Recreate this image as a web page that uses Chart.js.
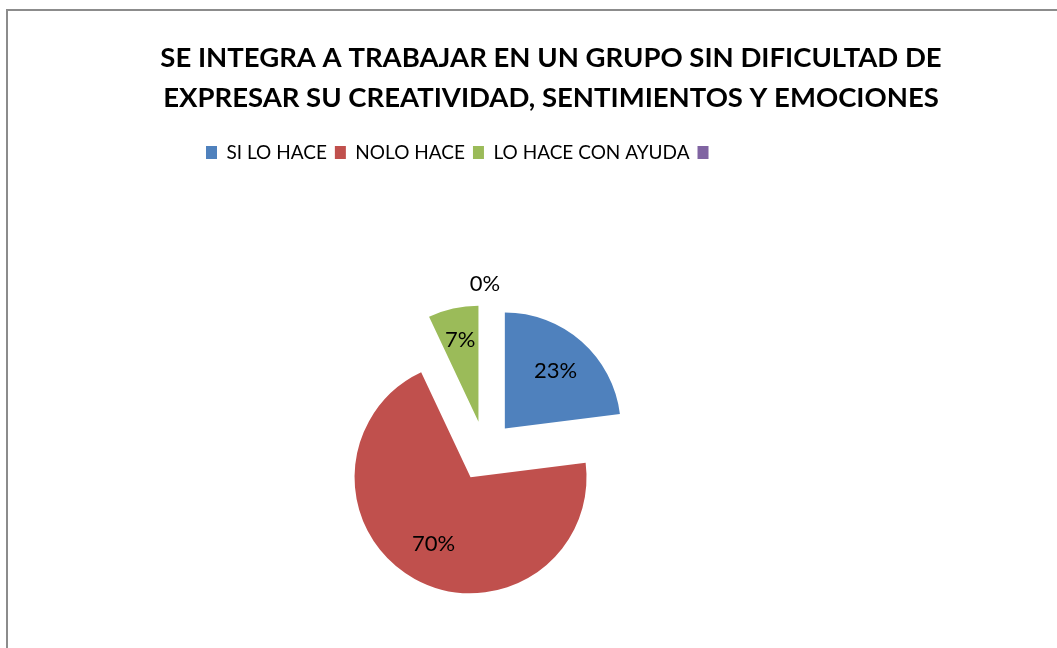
<!DOCTYPE html>
<html>
<head>
<meta charset="utf-8">
<script src="https://cdn.jsdelivr.net/npm/chart.js@4"></script>
<style>
    html, body { margin: 0; padding: 0; background: #fff; overflow: hidden; width: 1057px; height: 648px; }
    #frame { position: absolute; left: 6px; top: 9px; width: 1100px; height: 700px; border-left: 2px solid #8c8c8c; border-top: 2px solid #8c8c8c; }
    #chart { position: absolute; left: 0; top: 0; }
</style>
</head>
<body>
<div id="frame"><canvas id="chart"></canvas></div>
<script>
const titleLines = ['SE INTEGRA A TRABAJAR EN UN GRUPO SIN DIFICULTAD DE', 'EXPRESAR SU CREATIVIDAD, SENTIMIENTOS Y EMOCIONES'];
const categories = ['SI LO HACE', 'NOLO HACE', 'LO HACE CON AYUDA', ''];
const percentages = [23, 70, 7, 0];
const sliceColors = ['#4f81bd', '#c0504d', '#9bbb59', '#8064a2'];

// explode distance and where each label sits (fraction of radius from the slice tip)
const EXPLODE = 30;
const labelDist = [0.66, 0.66, 0.72, 1.18];
const pieCenter = { x: 477, y: 440 };
const legendIndent = 190;

const canvas = document.getElementById('chart');
canvas.style.width = '1086px';
canvas.style.height = '640px';

const plotArea = {
    id: 'plotArea',
    afterLayout(chart) {
        // legend starts left of centre, pie sits off-centre like the original
        chart.legend.left += legendIndent;
        const half = 150;
        chart.chartArea = {
            left: pieCenter.x - half, right: pieCenter.x + half,
            top: pieCenter.y - half, bottom: pieCenter.y + half,
            width: half * 2, height: half * 2
        };
    },
    afterDatasetUpdate(chart, args) {
        args.meta.data.forEach(arc => {
            const mid = (arc.startAngle + arc.endAngle) / 2;
            arc.x += Math.cos(mid) * EXPLODE;
            arc.y += Math.sin(mid) * EXPLODE;
        });
    }
};

const pctLabels = {
    id: 'pctLabels',
    afterDatasetsDraw(chart) {
        const ctx = chart.ctx;
        const meta = chart.getDatasetMeta(0);
        ctx.save();
        ctx.font = '22px Lato, "Liberation Sans", sans-serif';
        ctx.fillStyle = '#000';
        ctx.textAlign = 'center';
        ctx.textBaseline = 'middle';
        meta.data.forEach((arc, i) => {
            const mid = (arc.startAngle + arc.endAngle) / 2;
            const r = arc.outerRadius * labelDist[i];
            ctx.fillText(percentages[i] + '%', arc.x + Math.cos(mid) * r, arc.y + Math.sin(mid) * r);
        });
        ctx.restore();
    }
};

new Chart(canvas, {
    type: 'pie',
    data: {
        labels: categories,
        datasets: [{
            data: percentages,
            backgroundColor: sliceColors,
            borderWidth: 0,
            radius: 116,
            clip: false
        }]
    },
    options: {
        responsive: false,
        animation: false,
        events: [],
        layout: { padding: 0 },
        plugins: {
            title: {
                display: true,
                text: titleLines,
                color: '#000',
                font: { family: 'Lato, "Liberation Sans", sans-serif', size: 27.5, weight: 'bold', lineHeight: 40 / 27.5 },
                padding: { top: 27, bottom: 17 }
            },
            legend: {
                display: true,
                position: 'top',
                align: 'start',
                labels: {
                    color: '#000',
                    font: { family: 'Lato, sans-serif', size: 19 },
                    boxWidth: 11,
                    boxHeight: 13,
                    padding: 8
                }
            },
            tooltip: { enabled: false }
        }
    },
    plugins: [plotArea, pctLabels]
});
</script>
</body>
</html>
